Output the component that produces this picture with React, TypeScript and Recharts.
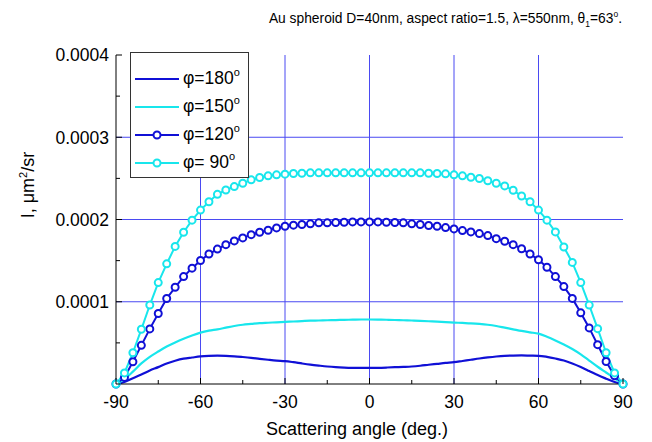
import React from 'react';
import { LineChart, Line, XAxis, YAxis, ReferenceLine, Legend } from 'recharts';

const angles = [
  -90, -87, -84, -81, -78, -75, -72, -69, -66, -63, -60, -57, -54, -51, -48, -45, -42, -39, -36, -33, -30,
  -27, -24, -21, -18, -15, -12, -9, -6, -3, 0, 3, 6, 9, 12, 15, 18, 21, 24, 27, 30,
  33, 36, 39, 42, 45, 48, 51, 54, 57, 60, 63, 66, 69, 72, 75, 78, 81, 84, 87, 90,
];

// phi = 90 deg (cyan, circles)
const phi90 = [
  0, 0.135e-4, 0.38e-4, 0.665e-4, 0.96e-4, 1.233e-4, 1.461e-4, 1.673e-4, 1.845e-4, 1.992e-4, 2.114e-4,
  2.216e-4, 2.306e-4, 2.359e-4, 2.4e-4, 2.441e-4, 2.482e-4, 2.51e-4, 2.531e-4, 2.543e-4, 2.551e-4,
  2.559e-4, 2.563e-4, 2.567e-4, 2.567e-4, 2.567e-4, 2.567e-4, 2.567e-4, 2.567e-4, 2.567e-4, 2.567e-4,
  2.567e-4, 2.567e-4, 2.567e-4, 2.567e-4, 2.567e-4, 2.567e-4, 2.563e-4, 2.559e-4, 2.555e-4, 2.543e-4,
  2.531e-4, 2.514e-4, 2.498e-4, 2.471e-4, 2.441e-4, 2.408e-4, 2.355e-4, 2.286e-4, 2.216e-4, 2.114e-4,
  1.992e-4, 1.849e-4, 1.665e-4, 1.478e-4, 1.233e-4, 0.959e-4, 0.673e-4, 0.38e-4, 0.135e-4, 0,
];

// phi = 120 deg (blue, circles)
const phi120 = [
  0, 0.08e-4, 0.27e-4, 0.47e-4, 0.67e-4, 0.857e-4, 1.04e-4, 1.176e-4, 1.306e-4, 1.408e-4, 1.502e-4,
  1.58e-4, 1.64e-4, 1.694e-4, 1.74e-4, 1.776e-4, 1.816e-4, 1.845e-4, 1.869e-4, 1.898e-4, 1.918e-4,
  1.931e-4, 1.939e-4, 1.947e-4, 1.959e-4, 1.959e-4, 1.963e-4, 1.967e-4, 1.971e-4, 1.971e-4, 1.971e-4,
  1.971e-4, 1.967e-4, 1.963e-4, 1.959e-4, 1.947e-4, 1.939e-4, 1.927e-4, 1.918e-4, 1.902e-4, 1.886e-4,
  1.865e-4, 1.849e-4, 1.829e-4, 1.804e-4, 1.767e-4, 1.735e-4, 1.694e-4, 1.645e-4, 1.58e-4, 1.51e-4,
  1.42e-4, 1.306e-4, 1.184e-4, 1.041e-4, 0.865e-4, 0.682e-4, 0.478e-4, 0.273e-4, 0.1e-4, 0,
];

// phi = 150 deg (cyan, solid)
const phi150 = [
  0, 0.06e-4, 0.15e-4, 0.25e-4, 0.33e-4, 0.395e-4, 0.455e-4, 0.505e-4, 0.55e-4, 0.59e-4, 0.624e-4,
  0.648e-4, 0.665e-4, 0.685e-4, 0.705e-4, 0.72e-4, 0.73e-4, 0.74e-4, 0.745e-4, 0.75e-4, 0.755e-4,
  0.76e-4, 0.765e-4, 0.77e-4, 0.772e-4, 0.775e-4, 0.777e-4, 0.78e-4, 0.782e-4, 0.784e-4, 0.784e-4,
  0.783e-4, 0.781e-4, 0.778e-4, 0.775e-4, 0.772e-4, 0.768e-4, 0.763e-4, 0.758e-4, 0.752e-4, 0.747e-4,
  0.742e-4, 0.737e-4, 0.73e-4, 0.72e-4, 0.705e-4, 0.685e-4, 0.665e-4, 0.645e-4, 0.628e-4, 0.612e-4,
  0.575e-4, 0.53e-4, 0.48e-4, 0.425e-4, 0.36e-4, 0.285e-4, 0.21e-4, 0.14e-4, 0.07e-4, 0,
];

// phi = 180 deg (blue, solid)
const phi180 = [
  0, 0.025e-4, 0.07e-4, 0.115e-4, 0.165e-4, 0.205e-4, 0.25e-4, 0.283e-4, 0.308e-4, 0.322e-4, 0.335e-4,
  0.342e-4, 0.345e-4, 0.343e-4, 0.337e-4, 0.328e-4, 0.318e-4, 0.306e-4, 0.295e-4, 0.285e-4, 0.278e-4,
  0.265e-4, 0.25e-4, 0.236e-4, 0.224e-4, 0.213e-4, 0.205e-4, 0.2e-4, 0.197e-4, 0.196e-4, 0.196e-4,
  0.197e-4, 0.2e-4, 0.204e-4, 0.208e-4, 0.213e-4, 0.222e-4, 0.234e-4, 0.245e-4, 0.256e-4, 0.265e-4,
  0.28e-4, 0.295e-4, 0.31e-4, 0.323e-4, 0.334e-4, 0.342e-4, 0.346e-4, 0.347e-4, 0.345e-4, 0.343e-4,
  0.33e-4, 0.31e-4, 0.286e-4, 0.25e-4, 0.207e-4, 0.158e-4, 0.108e-4, 0.065e-4, 0.025e-4, 0,
];

const xTicks = [-90, -75, -60, -45, -30, -15, 0, 15, 30, 45, 60, 75, 90];
const xMajor = [-90, -60, -30, 0, 30, 60, 90];
const yTicks = [0, 0.00005, 0.0001, 0.00015, 0.0002, 0.00025, 0.0003, 0.00035, 0.0004];
const yMajor = [0.0001, 0.0002, 0.0003, 0.0004];
const yMajorLabels = ['0.0001', '0.0002', '0.0003', '0.0004'];
const xGrid = [-60, -30, 0, 30, 60];
const yGrid = [0.0001, 0.0002, 0.0003];
const legendOrder = ['φ=180', 'φ=150', 'φ=120', 'φ= 90'];

const BLUE = '#1010d6';
const CYAN = '#18e6ec';
const GRID = '#4a4af2';
const FONT = '"Liberation Sans", Arial, Helvetica, sans-serif';

const data = angles.map((a, i) => ({
  angle: a,
  p180: phi180[i],
  p150: phi150[i],
  p120: phi120[i],
  p90: phi90[i],
}));

const XTick = (props: any) => {
  const { x, y, payload } = props;
  const v = payload.value;
  const major = xMajor.includes(v);
  return (
    <g>
      <line x1={x} x2={x} y1={y} y2={y - (major ? 6 : 4)} stroke="#000" strokeWidth={1} />
      {major && (
        <text x={x} y={y + 24} textAnchor="middle" fontSize={17.5} fontFamily={FONT} fill="#000">
          {String(v)}
        </text>
      )}
    </g>
  );
};

const YTick = (props: any) => {
  const { x, y, payload } = props;
  const v = payload.value;
  const idx = yMajor.findIndex((m) => Math.abs(m - v) < 1e-9);
  const major = idx >= 0;
  return (
    <g>
      <line x1={x} x2={x + (major ? 6 : 4)} y1={y} y2={y} stroke="#000" strokeWidth={1} />
      {major && (
        <text x={x - 7} y={y} dy="0.36em" textAnchor="end" fontSize={17.5} fontFamily={FONT} fill="#000">
          {yMajorLabels[idx]}
        </text>
      )}
    </g>
  );
};

const renderLegend = (props: any) => {
  const payload: any[] = props.payload || [];
  const items = legendOrder
    .map((name) => payload.find((p: any) => p.value === name))
    .filter(Boolean);
  return (
    <div
      style={{
        width: 117,
        height: 124,
        border: '1px solid #333',
        background: '#fff',
        boxSizing: 'content-box',
        fontFamily: FONT,
      }}
    >
      <div style={{ height: 12 }} />
      {items.map((entry: any, i: number) => {
        const withDot = entry.payload && entry.payload.dot !== false && entry.payload.dot !== undefined;
        return (
          <div key={i} style={{ height: 28, display: 'flex', alignItems: 'center', position: 'relative' }}>
            <svg width={52} height={28} style={{ display: 'block' }}>
              <line x1={4} x2={48} y1={14} y2={14} stroke={entry.color} strokeWidth={2} />
              {withDot && <circle cx={26} cy={14} r={3.5} fill="#fff" stroke={entry.color} strokeWidth={2} />}
            </svg>
            <span style={{ fontSize: 17.5, color: '#000', whiteSpace: 'pre', lineHeight: '28px' }}>
              {entry.value}
              <span style={{ fontSize: 11, position: 'relative', top: -8 }}>o</span>
            </span>
          </div>
        );
      })}
    </div>
  );
};

export default function App() {
  return (
    <div
      style={{
        position: 'absolute',
        left: 0,
        top: 0,
        width: 652,
        height: 442,
        background: '#fff',
        fontFamily: FONT,
        overflow: 'hidden',
      }}
    >
      <LineChart width={652} height={442} data={data} margin={{ top: 55, right: 29, bottom: 0, left: 0 }}>
        <XAxis
          dataKey="angle"
          type="number"
          domain={[-90, 90]}
          ticks={xTicks}
          interval={0}
          height={58}
          tickSize={0}
          tickMargin={0}
          tickLine={false}
          axisLine={{ stroke: '#000', strokeWidth: 1 }}
          tick={(p: any) => <XTick {...p} />}
        />
        <YAxis
          type="number"
          domain={[0, 0.0004]}
          ticks={yTicks}
          interval={0}
          width={116}
          tickSize={0}
          tickMargin={0}
          tickLine={false}
          axisLine={{ stroke: '#000', strokeWidth: 1 }}
          tick={(p: any) => <YTick {...p} />}
        />
        {yGrid.map((v) => (
          <ReferenceLine key={'gy' + v} y={v} stroke={GRID} strokeWidth={1} />
        ))}
        {xGrid.map((v) => (
          <ReferenceLine key={'gx' + v} x={v} stroke={GRID} strokeWidth={1} />
        ))}
        <Line
          name="φ=180"
          dataKey="p180"
          type="monotone"
          stroke={BLUE}
          strokeWidth={2.2}
          dot={false}
          isAnimationActive={false}
        />
        <Line
          name="φ=150"
          dataKey="p150"
          type="monotone"
          stroke={CYAN}
          strokeWidth={2.2}
          dot={false}
          isAnimationActive={false}
        />
        <Line
          name="φ=120"
          dataKey="p120"
          type="linear"
          stroke={BLUE}
          strokeWidth={2}
          dot={{ r: 3.5, stroke: BLUE, strokeWidth: 2, fill: '#fff' }}
          isAnimationActive={false}
        />
        <Line
          name="φ= 90"
          dataKey="p90"
          type="linear"
          stroke={CYAN}
          strokeWidth={2}
          dot={{ r: 3.5, stroke: CYAN, strokeWidth: 2, fill: '#fff' }}
          isAnimationActive={false}
        />
        <Legend
          content={renderLegend}
          layout="vertical"
          align="center"
          verticalAlign="middle"
          wrapperStyle={{ position: 'absolute', left: 130, top: 52, width: 119, height: 126 }}
        />
      </LineChart>

      <div
        style={{
          position: 'absolute',
          left: 0,
          width: 652,
          top: 11,
          textAlign: 'right',
          paddingRight: 30,
          boxSizing: 'border-box',
          fontSize: 13.8,
          color: '#000',
          whiteSpace: 'pre',
          lineHeight: '16px',
        }}
      >
        Au spheroid D=40nm, aspect ratio=1.5, λ=550nm, θ
        <span style={{ fontSize: 8.5, position: 'relative', top: 4 }}>1</span>
        =63
        <span style={{ fontSize: 8.5, position: 'relative', top: -6 }}>o</span>.
      </div>

      <div
        style={{
          position: 'absolute',
          left: 0,
          width: 652,
          top: 418,
          paddingLeft: 62,
          boxSizing: 'border-box',
          textAlign: 'center',
          fontSize: 18,
          color: '#000',
          lineHeight: '22px',
        }}
      >
        Scattering angle (deg.)
      </div>

      <div
        style={{
          position: 'absolute',
          left: 28 - 80,
          top: 185 - 12,
          width: 160,
          height: 24,
          textAlign: 'center',
          fontSize: 18,
          lineHeight: '24px',
          color: '#000',
          transform: 'rotate(-90deg)',
          transformOrigin: '80px 12px',
          whiteSpace: 'pre',
        }}
      >
        I, μm<span style={{ fontSize: 11, position: 'relative', top: -7 }}>2</span>/sr
      </div>
    </div>
  );
}
